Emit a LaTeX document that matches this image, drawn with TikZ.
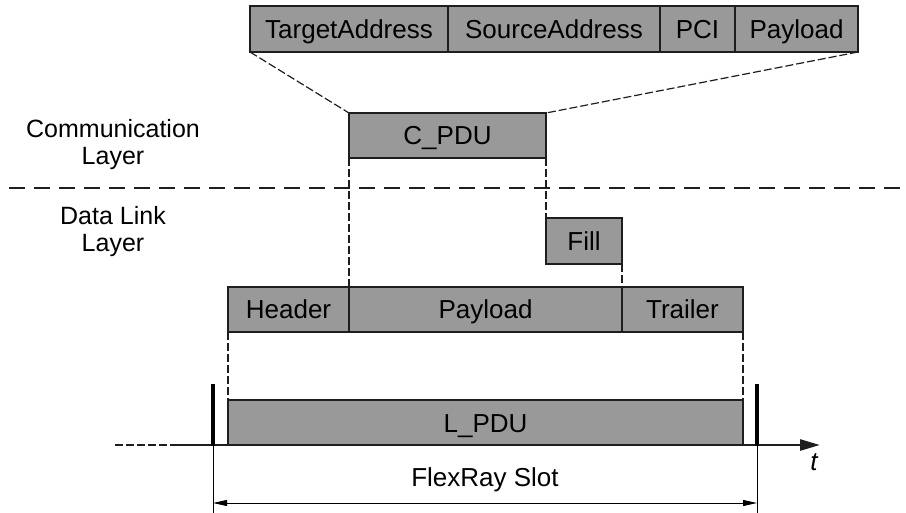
\documentclass[tikz,border=0pt]{standalone}
\usepackage{fontspec}
\setmainfont{Liberation Sans}
\usetikzlibrary{arrows.meta}
\definecolor{pdugray}{RGB}{153,153,153}
\definecolor{edge}{RGB}{30,30,30}
\tikzset{
  pdu/.style={draw=edge, fill=pdugray, line width=1.5pt, inner sep=0pt, outer sep=0pt,
    text height=25pt, text depth=6pt, font=\fontsize{26}{28}\selectfont},
  lbl/.style={align=center, font=\fontsize{25}{27}\selectfont},
  link/.style={draw=edge, line width=1.2pt, dash pattern=on 8pt off 3pt},
  sep/.style={draw=edge, line width=1.2pt, dash pattern=on 16pt off 9pt},
  tick/.style={line width=4pt, line cap=butt},
}
\begin{document}
\begin{tikzpicture}[x=1pt, y=-1pt]
\useasboundingbox (0,0) rectangle (906,513);

% frame fields
\node[pdu, minimum width=198pt, minimum height=46pt] (ta) at (349,29) {TargetAddress};
\node[pdu, minimum width=212pt, minimum height=46pt] (sa) at (554,29) {SourceAddress};
\node[pdu, minimum width=75pt, minimum height=46pt] (pci) at (697.5,29) {PCI};
\node[pdu, minimum width=123pt, minimum height=46pt] (pl) at (796.5,29) {Payload};

% communication layer PDU
\node[pdu, minimum width=197pt, minimum height=45pt] (cpdu) at (447.5,135.5) {C\_PDU};

% layer labels and separator
\node[lbl] (comm) at (113,145) {Communication\\Layer};
\node[lbl] (dll) at (113,232) {Data Link\\Layer};
\coordinate (sepL) at (9,188);
\coordinate (sepR) at (906,188);
\draw[sep] (sepL) -- (sepR);

% data link layer frame
\node[pdu, minimum width=76pt, minimum height=46pt] (fill) at (584,241) {Fill};
\node[pdu, minimum width=121pt, minimum height=45pt] (hdr) at (288.5,309.5) {Header};
\node[pdu, minimum width=273pt, minimum height=45pt] (dpl) at (485.5,309.5) {Payload};
\node[pdu, minimum width=121pt, minimum height=45pt] (trl) at (682.5,309.5) {Trailer};
\node[pdu, minimum width=515pt, minimum height=45pt] (lpdu) at (485.5,422.5) {L\_PDU};

% mapping lines
\draw[link] (ta.south west) -- (cpdu.north west);
\draw[link] (pl.south east) -- (cpdu.north east);
\draw[link] (cpdu.south west) -- (dpl.north west);
\draw[link] (cpdu.south east) -- (fill.north west);
\draw[link] (fill.south east) -- (trl.north west);
\draw[link] (hdr.south west) -- (lpdu.north west);
\draw[link] (trl.south east) -- (lpdu.north east);

% time axis
\coordinate (axA) at (115,445);
\coordinate (axB) at (172,445);
\coordinate (axC) at (820,445);
\draw[edge, line width=2.5pt, dash pattern=on 8pt off 3pt] (axA) -- (axB);
\draw[edge, line width=2.5pt, -{Triangle[length=20pt,width=11pt]}] (axB) -- (axC);
\node[font=\fontsize{26}{28}\selectfont\itshape] (t) at (814,462) {t};

% slot boundaries
\coordinate (s1t) at (213,384);
\coordinate (s1b) at (213,446);
\coordinate (s2t) at (757,384);
\coordinate (s2b) at (757,446);
\draw[tick] (s1t) -- (s1b);
\draw[tick] (s2t) -- (s2b);
\coordinate (s1e) at (213,513);
\coordinate (s2e) at (757,513);
\draw[line width=1pt] (s1b) -- (s1e);
\draw[line width=1pt] (s2b) -- (s2e);

% slot length
\coordinate (d1) at (213,503);
\coordinate (d2) at (757,503);
\draw[line width=1pt, {Triangle[length=14pt,width=6pt]}-{Triangle[length=14pt,width=6pt]}] (d1) -- (d2);
\node[lbl, font=\fontsize{26}{28}\selectfont] (slot) at (485,480) {FlexRay Slot};
\end{tikzpicture}
\end{document}
